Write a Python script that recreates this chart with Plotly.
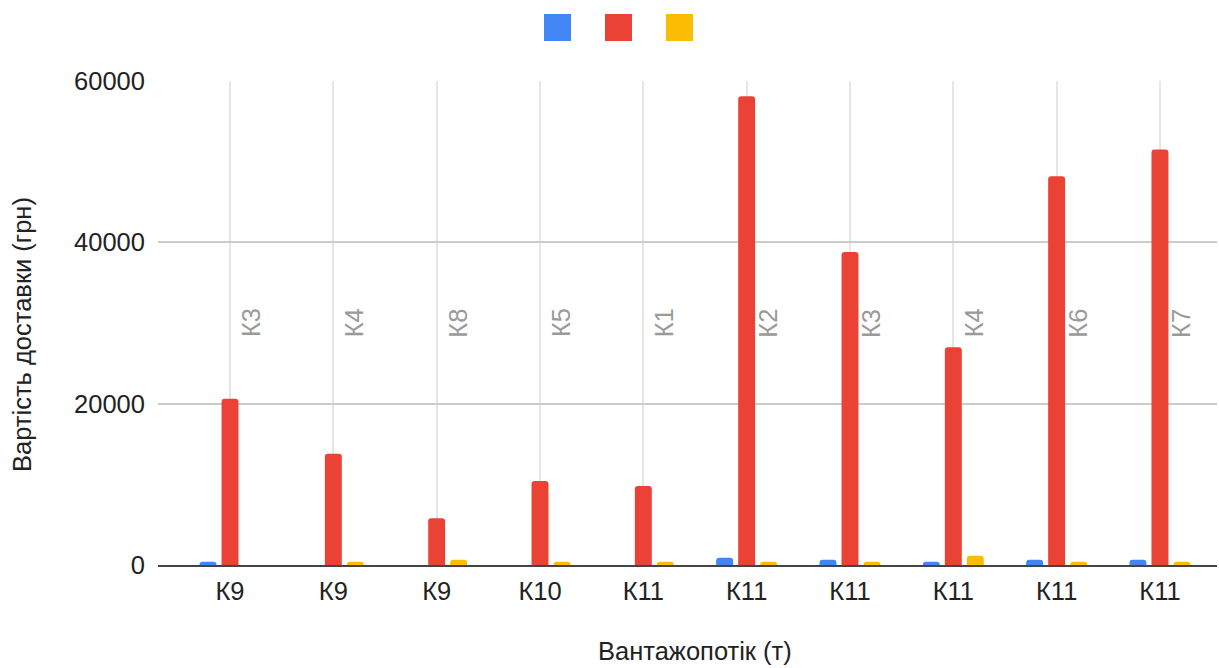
import plotly.graph_objects as go

# Carrier (lower label) and client (upper label) for each group
carriers = ["К9", "К9", "К9", "К10", "К11", "К11", "К11", "К11", "К11", "К11"]
clients = ["К3", "К4", "К8", "К5", "К1", "К2", "К3", "К4", "К6", "К7"]

# Delivery cost values per series (грн)
cost_blue = [400, 0, 0, 0, 0, 900, 650, 400, 650, 650]
cost_red = [20600, 13800, 5800, 10400, 9800, 58100, 38800, 27000, 48200, 51500]
cost_yellow = [0, 400, 650, 400, 400, 400, 400, 1150, 400, 400]

y_ticks = [0, 20000, 40000, 60000]

colors = ["#4285F4", "#EA4335", "#FBBC04"]
FONT = "Arial, Liberation Sans, sans-serif"
FS = 25.5

x = list(range(len(carriers)))

fig = go.Figure()
for vals, col in zip([cost_blue, cost_red, cost_yellow], colors):
    fig.add_trace(go.Bar(x=x, y=vals, marker=dict(color=col, line=dict(width=0)),
                         showlegend=False, hoverinfo="y"))

# Upper-level category labels, rotated, placed beside each group's gridline
for i, lab in enumerate(clients):
    fig.add_annotation(x=i, y=0.5, xref="x", yref="paper", text=lab,
                       textangle=-90, showarrow=False, xshift=21,
                       font=dict(family=FONT, size=FS, color="#9a9a9a"))

# Plot-area geometry in pixels
L, R, T, B = 158, 1217, 81, 565
W, H = R - L, B - T

# Axis titles
fig.add_annotation(text="Вартість доставки (грн)", xref="paper", yref="paper",
                   x=(22 - L) / W, y=(B - 335) / H, xanchor="center", yanchor="middle",
                   textangle=-90, showarrow=False,
                   font=dict(family=FONT, size=FS, color="#222222"))
fig.add_annotation(text="Вантажопотік (т)", xref="paper", yref="paper",
                   x=(695 - L) / W, y=(B - 651) / H, xanchor="center", yanchor="middle",
                   showarrow=False,
                   font=dict(family=FONT, size=FS, color="#222222"))

# Legend keys (series have no names): colour squares above the plot
for k, col in enumerate(colors):
    x0 = 544 + 61 * k
    fig.add_shape(type="rect", xref="paper", yref="paper",
                  x0=(x0 - L) / W, x1=(x0 + 27 - L) / W,
                  y0=(B - 41) / H, y1=(B - 14) / H,
                  fillcolor=col, line=dict(width=0), layer="above")

fig.update_layout(
    width=1219, height=668,
    margin=dict(l=L, r=1219 - R, t=T, b=668 - B, autoexpand=False),
    plot_bgcolor="white", paper_bgcolor="white",
    barmode="group", bargap=0.361, bargroupgap=0.23, barcornerradius=3,
    font=dict(family=FONT, size=FS, color="#222222"),
    showlegend=False,
    xaxis=dict(
        range=[-0.697, 9.552], tickmode="array", tickvals=x, ticktext=carriers,
        showgrid=True, gridcolor="#e6e6e6", gridwidth=1.5,
        showline=True, linecolor="#444444", linewidth=2,
        ticks="", ticklabelstandoff=2, automargin=False,
        zeroline=False,
    ),
    yaxis=dict(
        range=[0, 60000], tickmode="array", tickvals=y_ticks,
        ticktext=[str(v) for v in y_ticks],
        showgrid=True, gridcolor="#cccccc", gridwidth=1.5,
        zeroline=False, ticks="", ticklabelstandoff=12, automargin=False,
    ),
)

fig.write_html("out.html")
